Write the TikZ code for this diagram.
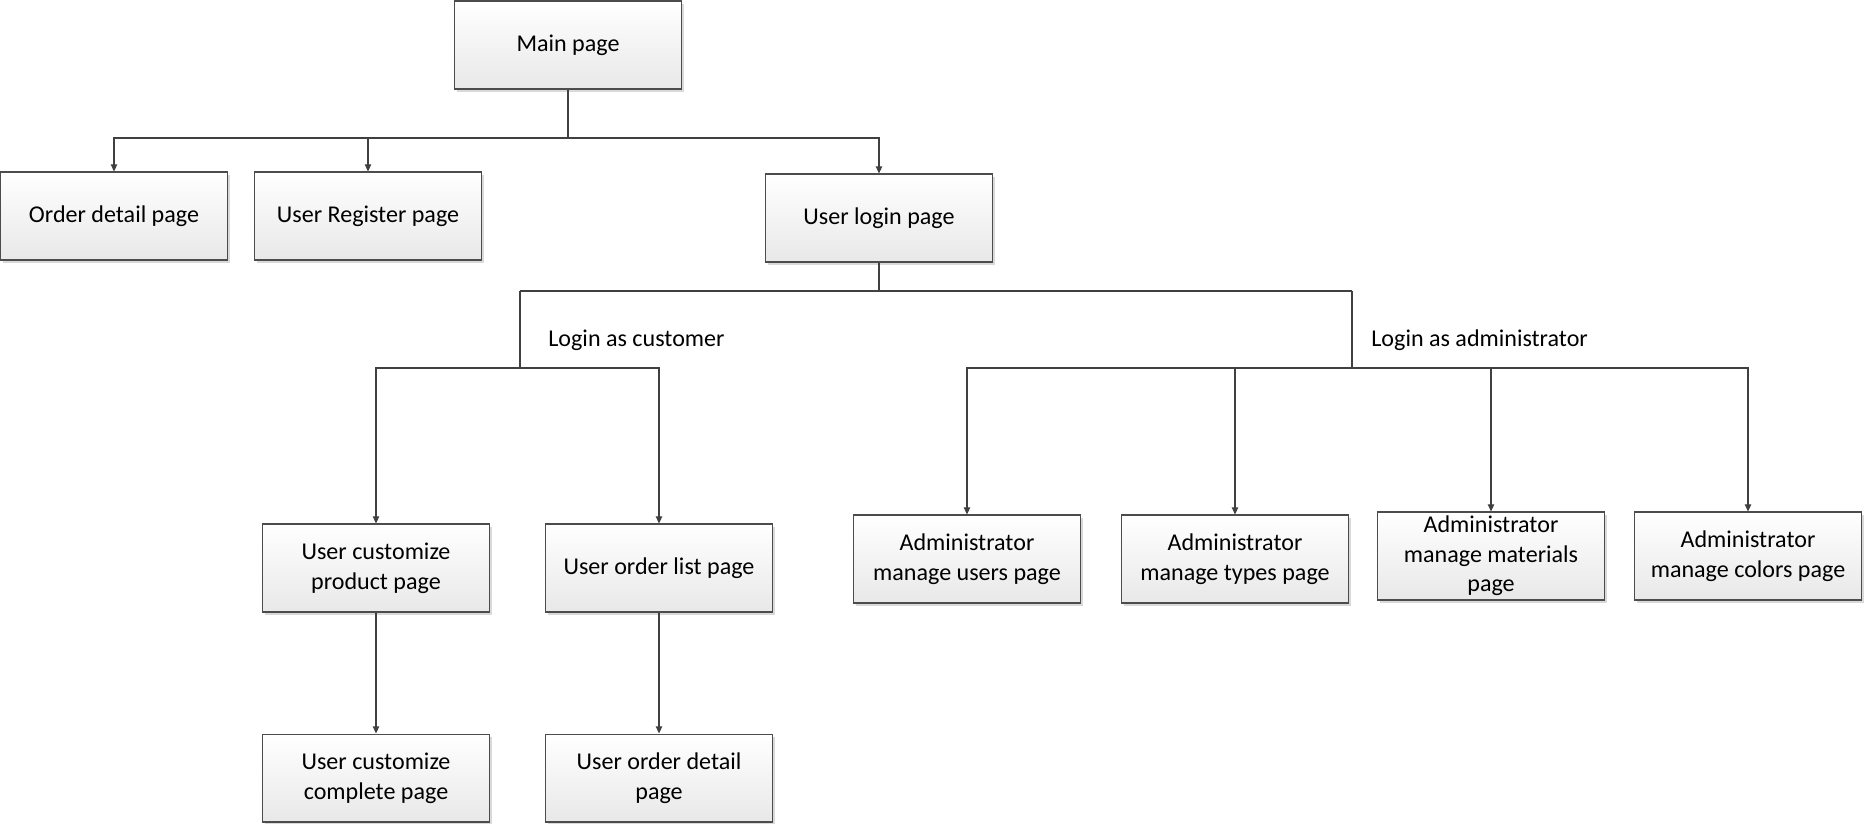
\documentclass[tikz,border=0pt]{standalone}
\usepackage{fontspec}
\setmainfont{Carlito}
\usepackage{tikz}
\usetikzlibrary{arrows.meta,shadows}

\begin{document}
\begin{tikzpicture}[
  x=0.02cm, y=-0.02cm,
  >={Triangle[length=4pt,width=3.6pt]},
  pagebox/.style={draw=black!70,line width=.6pt,top color=white,bottom color=black!9,
                  drop shadow={shadow xshift=1.6pt,shadow yshift=-1.6pt,opacity=.25,fill=black!60},
                  align=center,minimum width=4.54cm,minimum height=1.76cm,
                  inner sep=1pt,font=\fontsize{13.7}{16.9}\selectfont},
  link/.style={draw=black!75,line width=.6pt},
  branchlabel/.style={anchor=west,inner sep=0pt,font=\fontsize{13.7}{16.9}\selectfont}
]
 \useasboundingbox (0,0) rectangle (1865,823);
 % top level
 \node[pagebox] (main) at (568,45) {Main page};
 \node[pagebox] (ord) at (114,216) {Order detail page};
 \node[pagebox] (reg) at (368,216) {User Register page};
 \node[pagebox] (login) at (879,218) {User login page};
 % customer side
 \node[pagebox] (cust) at (376,568) {User customize\\product page};
 \node[pagebox] (olist) at (659,568) {User order list page};
 \node[pagebox] (custdone) at (376,778) {User customize\\complete page};
 \node[pagebox] (odetail) at (659,778) {User order detail\\page};
 % administrator side
 \node[pagebox] (ausers) at (967,559) {Administrator\\manage users page};
 \node[pagebox] (atypes) at (1235,559) {Administrator\\manage types page};
 \node[pagebox] (amat) at (1491,556) {Administrator\\manage materials\\page};
 \node[pagebox] (acol) at (1748,556) {Administrator\\manage colors page};
 % branch points
 \coordinate (mainbr) at (568,138);
 \coordinate (loginbr) at (879,291);
 \coordinate (custbr) at (520,291);
 \coordinate (custbr2) at (520,368);
 \coordinate (adminbr) at (1352,291);
 \coordinate (adminbr2) at (1352,368);
 \node[branchlabel] (custlbl) at (548,340) {Login as customer};
 \node[branchlabel] (adminlbl) at (1371,340) {Login as administrator};
 % connectors
 \draw[link] (main.south) -- (mainbr);
 \draw[link,->] (mainbr) -| (ord.north);
 \draw[link,->] (mainbr) -| (reg.north);
 \draw[link,->] (mainbr) -| (login.north);
 \draw[link] (login.south) -- (loginbr);
 \draw[link] (custbr) -- (adminbr);
 \draw[link] (custbr) -- (custbr2);
 \draw[link] (adminbr) -- (adminbr2);
 \draw[link,->] (custbr2) -| (cust.north);
 \draw[link,->] (custbr2) -| (olist.north);
 \draw[link,->] (cust.south) -- (custdone.north);
 \draw[link,->] (olist.south) -- (odetail.north);
 \draw[link,->] (adminbr2) -| (ausers.north);
 \draw[link,->] (adminbr2) -| (atypes.north);
 \draw[link,->] (adminbr2) -| (amat.north);
 \draw[link,->] (adminbr2) -| (acol.north);
\end{tikzpicture}
\end{document}
